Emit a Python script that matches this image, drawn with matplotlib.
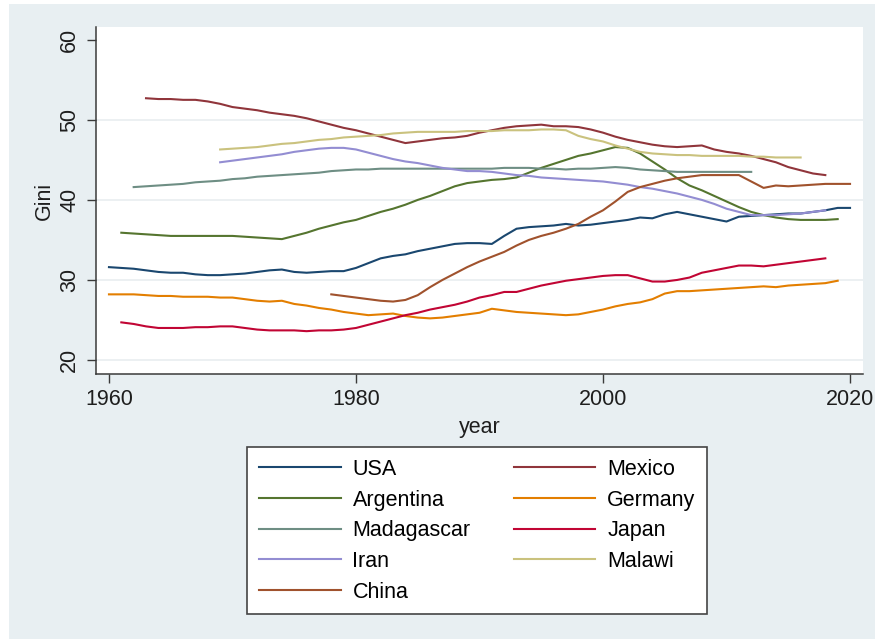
import numpy as np
import matplotlib
matplotlib.use("Agg")
import matplotlib.pyplot as plt
from matplotlib.patches import Rectangle

plt.rcParams["font.family"] = ["Liberation Sans", "DejaVu Sans"]

# Gini index by country, yearly values (first year given separately)
usa_start = 1960
usa = [31.6, 31.5, 31.4, 31.2, 31.0, 30.9, 30.9, 30.7, 30.6, 30.6,
       30.7, 30.8, 31.0, 31.2, 31.3, 31.0, 30.9, 31.0, 31.1, 31.1,
       31.5, 32.1, 32.7, 33.0, 33.2, 33.6, 33.9, 34.2, 34.5, 34.6,
       34.6, 34.5, 35.5, 36.4, 36.6, 36.7, 36.8, 37.0, 36.8, 36.9,
       37.1, 37.3, 37.5, 37.8, 37.7, 38.2, 38.5, 38.2, 37.9, 37.6,
       37.3, 37.9, 38.0, 38.1, 38.2, 38.3, 38.3, 38.5, 38.7, 39.0, 39.0]

mexico_start = 1963
mexico = [52.7, 52.6, 52.6, 52.5, 52.5, 52.3, 52.0, 51.6, 51.4, 51.2,
          50.9, 50.7, 50.5, 50.2, 49.8, 49.4, 49.0, 48.7, 48.3, 47.9,
          47.5, 47.1, 47.3, 47.5, 47.7, 47.8, 48.0, 48.4, 48.7, 49.0,
          49.2, 49.3, 49.4, 49.2, 49.2, 49.1, 48.8, 48.4, 47.9, 47.5,
          47.2, 46.9, 46.7, 46.6, 46.7, 46.8, 46.3, 46.0, 45.8, 45.5,
          45.1, 44.7, 44.1, 43.7, 43.3, 43.1]

argentina_start = 1961
argentina = [35.9, 35.8, 35.7, 35.6, 35.5, 35.5, 35.5, 35.5, 35.5, 35.5,
             35.4, 35.3, 35.2, 35.1, 35.5, 35.9, 36.4, 36.8, 37.2, 37.5,
             38.0, 38.5, 38.9, 39.4, 40.0, 40.5, 41.1, 41.7, 42.1, 42.3,
             42.5, 42.6, 42.8, 43.4, 44.0, 44.5, 45.0, 45.5, 45.8, 46.2,
             46.6, 46.5, 45.8, 44.8, 43.8, 42.7, 41.8, 41.2, 40.5, 39.8,
             39.1, 38.5, 38.1, 37.8, 37.6, 37.5, 37.5, 37.5, 37.6]

germany_start = 1960
germany = [28.2, 28.2, 28.2, 28.1, 28.0, 28.0, 27.9, 27.9, 27.9, 27.8,
           27.8, 27.6, 27.4, 27.3, 27.4, 27.0, 26.8, 26.5, 26.3, 26.0,
           25.8, 25.6, 25.7, 25.8, 25.5, 25.3, 25.2, 25.3, 25.5, 25.7,
           25.9, 26.4, 26.2, 26.0, 25.9, 25.8, 25.7, 25.6, 25.7, 26.0,
           26.3, 26.7, 27.0, 27.2, 27.6, 28.3, 28.6, 28.6, 28.7, 28.8,
           28.9, 29.0, 29.1, 29.2, 29.1, 29.3, 29.4, 29.5, 29.6, 29.9]

madagascar_start = 1962
madagascar = [41.6, 41.7, 41.8, 41.9, 42.0, 42.2, 42.3, 42.4, 42.6, 42.7,
              42.9, 43.0, 43.1, 43.2, 43.3, 43.4, 43.6, 43.7, 43.8, 43.8,
              43.9, 43.9, 43.9, 43.9, 43.9, 43.9, 43.9, 43.9, 43.9, 43.9,
              44.0, 44.0, 44.0, 43.9, 43.9, 43.8, 43.9, 43.9, 44.0, 44.1,
              44.0, 43.8, 43.7, 43.6, 43.5, 43.5, 43.5, 43.5, 43.5, 43.5,
              43.5]

japan_start = 1961
japan = [24.7, 24.5, 24.2, 24.0, 24.0, 24.0, 24.1, 24.1, 24.2, 24.2,
         24.0, 23.8, 23.7, 23.7, 23.7, 23.6, 23.7, 23.7, 23.8, 24.0,
         24.4, 24.8, 25.2, 25.6, 25.9, 26.3, 26.6, 26.9, 27.3, 27.8,
         28.1, 28.5, 28.5, 28.9, 29.3, 29.6, 29.9, 30.1, 30.3, 30.5,
         30.6, 30.6, 30.2, 29.8, 29.8, 30.0, 30.3, 30.9, 31.2, 31.5,
         31.8, 31.8, 31.7, 31.9, 32.1, 32.3, 32.5, 32.7]

iran_start = 1969
iran = [44.7, 44.9, 45.1, 45.3, 45.5, 45.7, 46.0, 46.2, 46.4, 46.5,
        46.5, 46.3, 45.9, 45.5, 45.1, 44.8, 44.6, 44.3, 44.0, 43.8,
        43.6, 43.6, 43.5, 43.3, 43.1, 43.0, 42.8, 42.7, 42.6, 42.5,
        42.4, 42.3, 42.1, 41.9, 41.6, 41.4, 41.1, 40.8, 40.4, 40.0,
        39.5, 38.9, 38.5, 38.1, 38.1, 38.1, 38.2, 38.3, 38.5, 38.7]

malawi_start = 1969
malawi = [46.3, 46.4, 46.5, 46.6, 46.8, 47.0, 47.1, 47.3, 47.5, 47.6,
          47.8, 47.9, 48.0, 48.1, 48.3, 48.4, 48.5, 48.5, 48.5, 48.5,
          48.6, 48.6, 48.6, 48.7, 48.7, 48.7, 48.8, 48.8, 48.7, 48.0,
          47.6, 47.3, 46.8, 46.4, 46.0, 45.8, 45.7, 45.6, 45.6, 45.5,
          45.5, 45.5, 45.5, 45.4, 45.4, 45.3, 45.3, 45.3]

china_start = 1978
china = [28.2, 28.0, 27.8, 27.6, 27.4, 27.3, 27.5, 28.1, 29.1, 30.0,
         30.8, 31.6, 32.3, 32.9, 33.5, 34.3, 35.0, 35.5, 35.9, 36.4,
         37.0, 37.9, 38.7, 39.8, 41.0, 41.6, 42.0, 42.4, 42.7, 42.9,
         43.1, 43.1, 43.1, 43.1, 42.3, 41.5, 41.8, 41.7, 41.8, 41.9,
         42.0, 42.0, 42.0]

# Stata s2color palette, in plotting order
series = [
    ("USA", usa_start, usa, "#1a476f"),
    ("Mexico", mexico_start, mexico, "#90353b"),
    ("Argentina", argentina_start, argentina, "#55752f"),
    ("Germany", germany_start, germany, "#e37e00"),
    ("Madagascar", madagascar_start, madagascar, "#6e8e84"),
    ("Japan", japan_start, japan, "#c10534"),
    ("Iran", iran_start, iran, "#938dd2"),
    ("Malawi", malawi_start, malawi, "#cac27e"),
    ("China", china_start, china, "#a0522d"),
]

W, H = 875, 639
fig = plt.figure(figsize=(W / 100, H / 100), dpi=100, facecolor="white")
fig.add_artist(Rectangle((9 / W, 0), 1 - 9 / W, 1 - 4 / H,
                         transform=fig.transFigure, facecolor="#e8eff2",
                         edgecolor="none", zorder=-10))

ax = fig.add_axes([96 / W, 1 - 374 / H, (863 - 96) / W, (374 - 27) / H])
ax.set_facecolor("white")

handles = {}
for name, start, vals, color in series:
    years = np.arange(start, start + len(vals))
    (ln,) = ax.plot(years, vals, color=color, lw=1.5, label=name,
                    solid_joinstyle="round", zorder=3)
    handles[name] = ln

ax.set_xlim(1958.95, 2021.05)
ax.set_ylim(18.25, 61.6)
ax.set_xticks([1960, 1980, 2000, 2020])
ax.set_yticks([20, 30, 40, 50, 60])
for g in [20, 30, 40, 50]:
    ax.axhline(g, color="#e9eef0", lw=1.2, zorder=1)

for side in ["top", "right"]:
    ax.spines[side].set_visible(False)
for side in ["left", "bottom"]:
    ax.spines[side].set_color("#3a3a3a")
    ax.spines[side].set_linewidth(1.1)

ax.tick_params(axis="both", direction="out", length=6.5, width=1.0,
               color="#3a3a3a", labelsize=15.5, labelcolor="#1e1e1e")
ax.tick_params(axis="x", pad=4)
ax.tick_params(axis="y", pad=5)
for lab in ax.get_yticklabels():
    lab.set_rotation(90)
    lab.set_va("center")

ax.set_xlabel("year", fontsize=15.5, color="#1e1e1e", labelpad=5)
ax.set_ylabel("Gini", fontsize=15.5, color="#1e1e1e", labelpad=3)

# two-column legend, filled row by row like Stata
order = ["USA", "Argentina", "Madagascar", "Iran", "China",
         "Mexico", "Germany", "Japan", "Malawi"]
leg = fig.legend([handles[n] for n in order], order,
                 loc="upper left", bbox_to_anchor=(247 / W, 1 - 447 / H),
                 borderaxespad=0, ncol=2, fontsize=15.5, frameon=True,
                 fancybox=False, handlelength=3.8, handletextpad=0.55,
                 columnspacing=2.0, labelspacing=0.45, borderpad=0.55)
frame = leg.get_frame()
frame.set_edgecolor("#444444")
frame.set_linewidth(1.2)
frame.set_facecolor("white")
frame.set_alpha(1)

fig.savefig("out.png", dpi=100, facecolor=fig.get_facecolor())
